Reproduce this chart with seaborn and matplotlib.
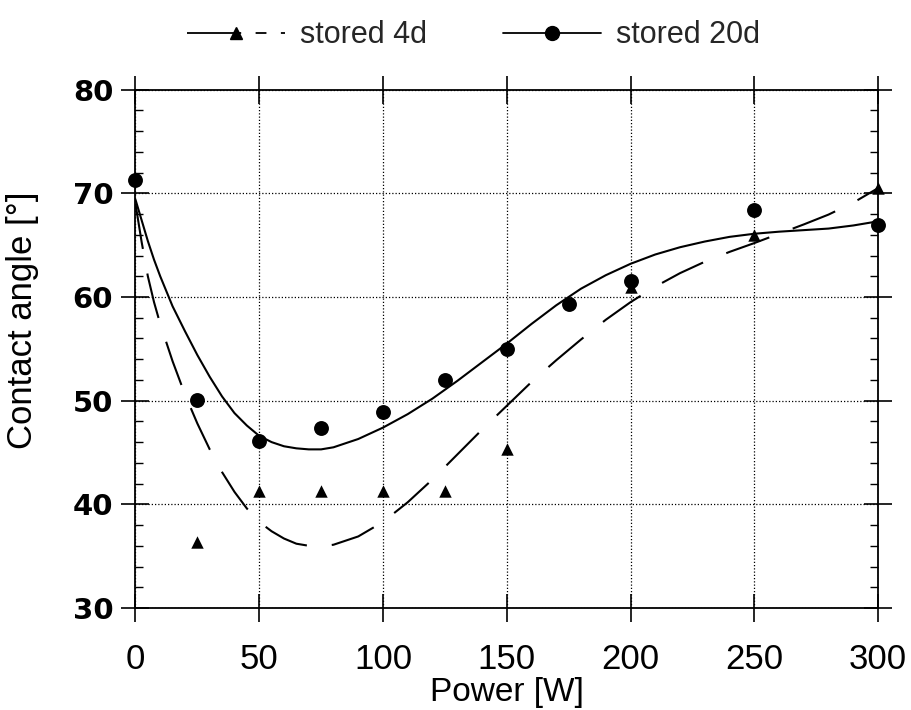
import matplotlib
matplotlib.use("Agg")
import matplotlib.pyplot as plt
from matplotlib.lines import Line2D
from matplotlib.ticker import MultipleLocator
import seaborn as sns

# measured points
power_20d = [0, 25, 50, 75, 100, 125, 150, 175, 200, 250, 300]
angle_20d = [71.3, 50.1, 46.1, 47.4, 48.95, 52.0, 55.0, 59.35, 61.5, 68.35, 66.9]

power_4d = [25, 50, 75, 100, 125, 150, 200, 250, 300]
angle_4d = [36.35, 41.25, 41.25, 41.25, 41.25, 45.35, 61.0, 66.0, 70.5]

# fitted curves
fit_power = [0, 2.5, 5, 7.5, 10, 15, 20, 25, 30, 35, 40, 45, 50, 55, 60, 65, 70, 75, 80,
             90, 100, 110, 120, 130, 140, 150, 160, 170, 180, 190, 200, 210, 220, 230,
             240, 250, 260, 270, 280, 290, 300]
fit_20d = [69.4, 67.4, 65.4, 63.6, 62.0, 59.1, 56.7, 54.4, 52.3, 50.4, 48.8, 47.6, 46.6,
           46.0, 45.6, 45.4, 45.3, 45.3, 45.5, 46.3, 47.4, 48.7, 50.2, 51.9, 53.7, 55.5,
           57.4, 59.2, 60.8, 62.1, 63.2, 64.1, 64.8, 65.35, 65.8, 66.1, 66.3, 66.45,
           66.6, 66.9, 67.3]
fit_4d = [69.0, 65.3, 62.0, 59.5, 57.4, 53.8, 50.6, 47.8, 45.3, 43.1, 41.2, 39.6, 38.3,
          37.4, 36.7, 36.2, 36.0, 35.95, 36.1, 36.9, 38.3, 40.2, 42.4, 44.8, 47.2, 49.5,
          51.8, 53.9, 55.9, 57.8, 59.5, 61.0, 62.3, 63.4, 64.35, 65.2, 66.1, 67.0,
          67.95, 69.1, 70.5]

x_ticks = [0, 50, 100, 150, 200, 250, 300]
y_ticks = [30, 40, 50, 60, 70, 80]

sns.set_theme(style="ticks")
plt.rcParams["font.family"] = ["Liberation Sans", "DejaVu Sans"]

dash = (0, (22, 12))

fig = plt.figure(figsize=(9.11, 7.10), dpi=100)
ax = fig.add_axes([0.1487, 0.1437, 0.8151, 0.73])

sns.lineplot(x=fit_power, y=fit_20d, ax=ax, color="black", lw=1.5, sort=False)
sns.lineplot(x=fit_power, y=fit_4d, ax=ax, color="black", lw=1.5, sort=False,
             linestyle=dash)
sns.scatterplot(x=power_20d, y=angle_20d, ax=ax, color="black", marker="o", s=115,
                edgecolor="black", linewidth=0, clip_on=False, zorder=5)
sns.scatterplot(x=power_4d, y=angle_4d, ax=ax, color="black", marker="^", s=80,
                edgecolor="black", linewidth=0, clip_on=False, zorder=5)

ax.set_xlim(0, 300)
ax.set_ylim(30, 80)
ax.set_xticks(x_ticks)
ax.set_yticks(y_ticks)
ax.yaxis.set_minor_locator(MultipleLocator(2))
ax.set_yticklabels([str(v) for v in y_ticks], family="DejaVu Sans",
                   fontweight="bold", fontsize=21)
ax.set_xticklabels([str(v) for v in x_ticks], fontsize=25)

ax.tick_params(which="major", direction="inout", length=20, width=1.2,
               top=True, right=True, color="black", labelcolor="black")
ax.tick_params(axis="x", pad=15)
ax.tick_params(axis="y", pad=6)
ax.tick_params(axis="y", which="minor", direction="in", length=6, width=1.0,
               left=True, right=True, color="black")

ax.grid(True, which="major", color="black", linestyle=(0, (1, 1.6)), linewidth=0.9)
for sp in ax.spines.values():
    sp.set_color("black")
    sp.set_linewidth(1.3)

ax.set_xlabel("Power [W]", fontsize=24, color="black", labelpad=1)
ax.set_ylabel("Contact angle [°]", fontsize=25, color="black")
ax.yaxis.set_label_coords(-0.13, 0.556)

handles = [
    Line2D([], [], color="black", lw=1.3, linestyle=(0, (30, 8, 6, 8)), marker="^",
           markersize=8),
    Line2D([], [], color="black", lw=1.3, marker="o", markersize=10),
]
fig.legend(handles, ["stored 4d", "stored 20d"], loc="upper center",
           bbox_to_anchor=(0.52, 1.01), ncol=2, frameon=False, fontsize=22,
           handlelength=3.2, columnspacing=2.5, handletextpad=0.5)

fig.savefig("out.png", dpi=100)
